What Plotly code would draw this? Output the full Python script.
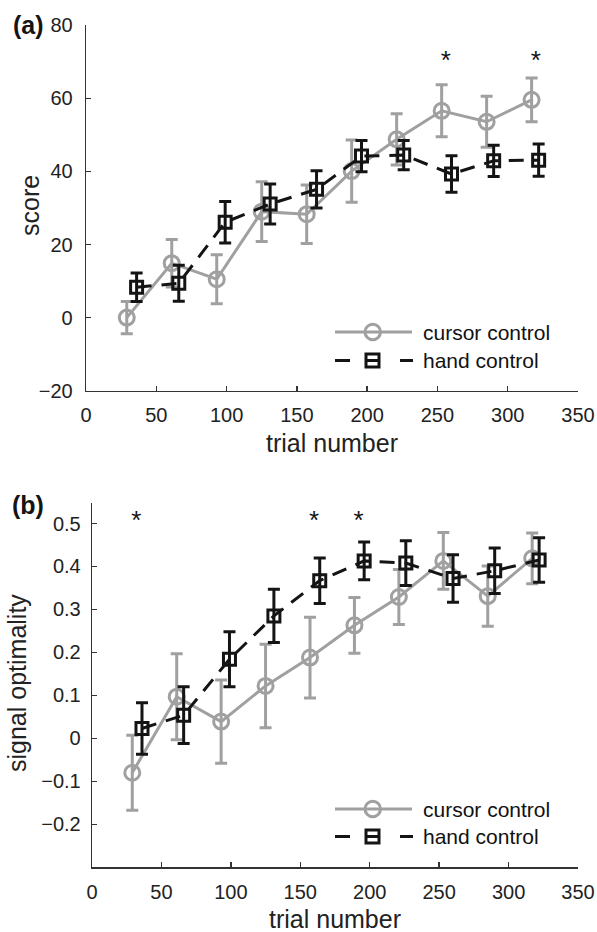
import plotly.graph_objects as go

W, H = 597, 932
OFF = 0

# ---------------- data ----------------
trial_cursor = [29, 61, 93, 125, 157, 189, 221, 253, 285, 317]
trial_hand = [36, 66, 99, 131, 164, 196, 226, 260, 290, 322]

score_cursor = [0.0, 14.9, 10.5, 29.0, 28.3, 40.1, 48.8, 56.6, 53.6, 59.6]
score_cursor_err = [4.4, 6.5, 6.7, 8.2, 8.0, 8.5, 7.0, 7.1, 7.0, 6.0]
score_hand = [8.3, 9.4, 26.1, 31.1, 35.1, 44.2, 44.5, 39.3, 42.9, 43.1]
score_hand_err = [3.9, 4.9, 5.7, 5.5, 5.1, 4.3, 4.0, 5.0, 4.3, 4.4]

opt_cursor = [-0.080, 0.097, 0.039, 0.122, 0.188, 0.263, 0.329, 0.413, 0.331, 0.419]
opt_cursor_err = [0.087, 0.100, 0.097, 0.097, 0.094, 0.065, 0.064, 0.066, 0.070, 0.059]
opt_hand = [0.023, 0.054, 0.184, 0.285, 0.367, 0.413, 0.408, 0.372, 0.390, 0.415]
opt_hand_err = [0.060, 0.066, 0.064, 0.062, 0.053, 0.044, 0.052, 0.055, 0.053, 0.052]

sig_score_x = [256, 320]
sig_score_y = [69.8, 69.8]
sig_opt_x = [32, 160, 192]
sig_opt_y = [0.503, 0.503, 0.503]

series_names = ["cursor control", "hand control"]
x_ticks = [0, 50, 100, 150, 200, 250, 300, 350]
score_ticks = [-20, 0, 20, 40, 60, 80]
opt_ticks = [-0.2, -0.1, 0, 0.1, 0.2, 0.3, 0.4, 0.5]

# ---------------- style ----------------
GRAY = "#a0a0a0"
BLACK = "#141414"
FONT = "Liberation Sans, Arial, sans-serif"
DASH = "15px,10px"

fig = go.Figure()

def add_panel(xa, ya, yc, yce, yh, yhe):
    fig.add_trace(go.Scatter(
        x=trial_cursor, y=yc, xaxis=xa, yaxis=ya, mode="lines+markers",
        name=series_names[0], showlegend=False,
        line=dict(color=GRAY, width=3),
        marker=dict(symbol="circle-open", size=15, color=GRAY, line=dict(width=3, color=GRAY)),
        error_y=dict(type="data", array=yce, color=GRAY, thickness=3, width=6),
    ))
    fig.add_trace(go.Scatter(
        x=trial_hand, y=yh, xaxis=xa, yaxis=ya, mode="lines+markers",
        name=series_names[1], showlegend=False,
        line=dict(color=BLACK, width=3, dash=DASH),
        marker=dict(symbol="square-open", size=12, color=BLACK, line=dict(width=3, color=BLACK)),
        error_y=dict(type="data", array=yhe, color=BLACK, thickness=3, width=6),
    ))

add_panel("x", "y", score_cursor, score_cursor_err, score_hand, score_hand_err)
add_panel("x2", "y2", opt_cursor, opt_cursor_err, opt_hand, opt_hand_err)

# significance stars
fig.add_trace(go.Scatter(x=sig_score_x, y=sig_score_y, xaxis="x", yaxis="y", mode="text",
                         text=["*"] * len(sig_score_x), showlegend=False,
                         textfont=dict(size=26, color=BLACK, family=FONT), hoverinfo="skip"))
fig.add_trace(go.Scatter(x=sig_opt_x, y=sig_opt_y, xaxis="x2", yaxis="y2", mode="text",
                         text=["*"] * len(sig_opt_x), showlegend=False,
                         textfont=dict(size=26, color=BLACK, family=FONT), hoverinfo="skip"))

def px(v):
    return (v - OFF) / W

def py(v):
    return 1 - (v - OFF) / H

axis_common = dict(
    showgrid=False, zeroline=False, showline=True, linecolor="#333333", linewidth=1.3,
    ticks="inside", ticklen=5, tickwidth=1.3, tickcolor="#333333", automargin=False,
    tickfont=dict(size=20, color="#222222", family=FONT), mirror=False,
)

fig.update_layout(
    template="none",
    width=W, height=H, margin=dict(l=0, r=0, t=0, b=0, pad=0, autoexpand=False),
    paper_bgcolor="white", plot_bgcolor="white",
    font=dict(family=FONT, color="#222222"),
    showlegend=False,
    xaxis=dict(domain=[px(86), px(578)], range=[0, 350], tickvals=x_ticks, anchor="y",
               ticklabelstandoff=6, **axis_common),
    yaxis=dict(domain=[py(390.7), py(25.3)], range=[-20, 80], tickvals=score_ticks, anchor="x",
               ticklabelstandoff=8, **axis_common),
    xaxis2=dict(domain=[px(92), px(578)], range=[0, 350], tickvals=x_ticks, anchor="y2",
                ticklabelstandoff=6, **axis_common),
    yaxis2=dict(domain=[py(867.3), py(503.3)], range=[-0.3, 0.547], tickvals=opt_ticks, anchor="x2",
                ticklabelstandoff=6, **axis_common),
)

annotations = []

def note(text, x, y, size, angle=0, color="#222222", xanchor="center"):
    annotations.append(dict(text=text, x=px(x), y=py(y), xref="paper", yref="paper",
                            xanchor=xanchor, yanchor="middle", textangle=angle,
                            showarrow=False, font=dict(size=size, color=color, family=FONT)))

# panel labels
note("<b>(a)</b>", 28, 25, 25, color=BLACK)
note("<b>(b)</b>", 28, 505, 25, color=BLACK)
# axis titles
note("trial number", 332, 443, 25)
note("trial number", 335, 919, 25)
note("score", 30, 206, 25, angle=-90)
note("signal optimality", 17, 683, 25, angle=-90)

shapes = []
def legend(y_c, y_h):
    # cursor control row
    shapes.append(dict(type="line", xref="paper", yref="paper", x0=px(335), x1=px(412),
                       y0=py(y_c), y1=py(y_c), line=dict(color=GRAY, width=3)))
    shapes.append(dict(type="circle", xref="paper", yref="paper", x0=px(365), x1=px(380.5),
                       y0=py(y_c + 7.75), y1=py(y_c - 7.75), line=dict(color=GRAY, width=3)))
    # hand control row
    for a, b in [(335, 350), (365, 380), (400, 413)]:
        shapes.append(dict(type="line", xref="paper", yref="paper", x0=px(a), x1=px(b),
                           y0=py(y_h), y1=py(y_h), line=dict(color=BLACK, width=3)))
    shapes.append(dict(type="rect", xref="paper", yref="paper", x0=px(366), x1=px(379),
                       y0=py(y_h + 6.5), y1=py(y_h - 6.5), line=dict(color=BLACK, width=3)))
    note(series_names[0], 421, y_c, 21, color="#111111", xanchor="left")
    note(series_names[1], 421, y_h, 21, color="#111111", xanchor="left")

legend(332, 360.5)
legend(809, 836.5)

fig.update_layout(annotations=annotations, shapes=shapes)

# remove the default 8px body margin so the 597x932 figure fills the window exactly
fig.write_html(
    "out.html",
    config={"displayModeBar": False, "staticPlot": True},
    post_script="document.body.style.margin='0';document.body.style.overflow='hidden';",
)
